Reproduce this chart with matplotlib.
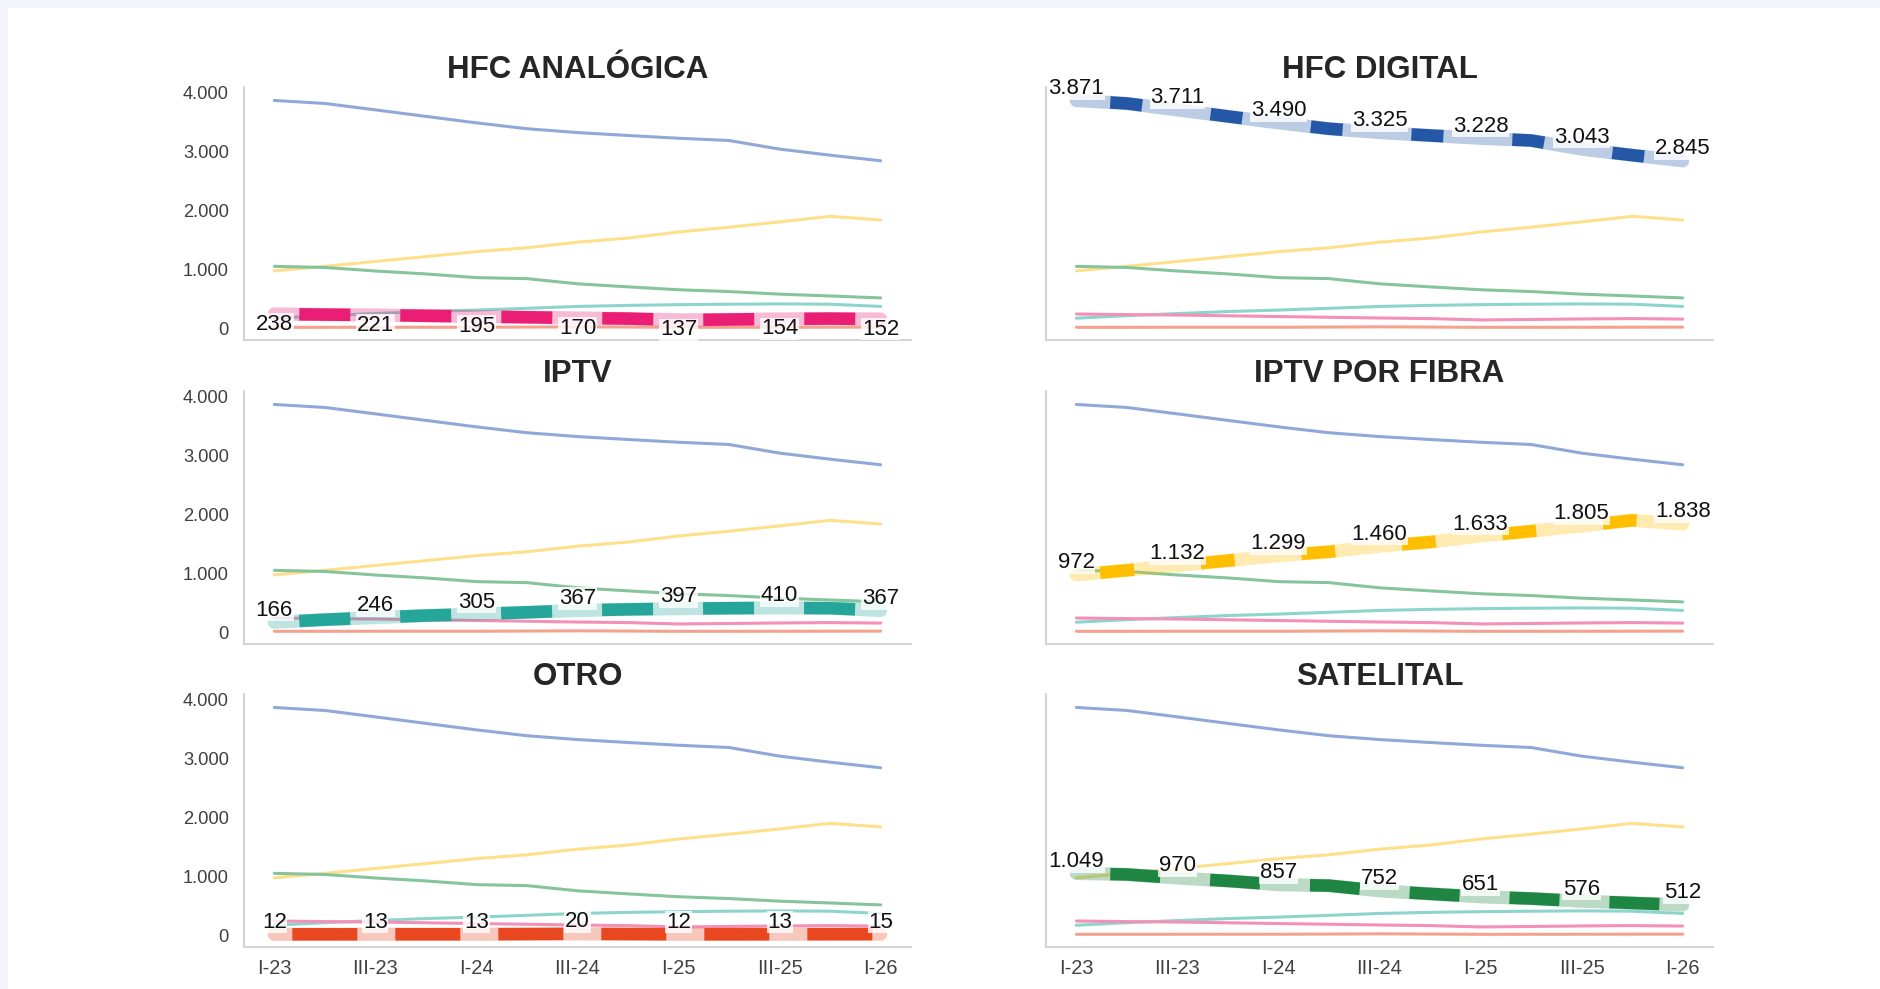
import matplotlib.pyplot as plt
from matplotlib.patches import Rectangle

plt.rcParams['font.family'] = ['Liberation Sans', 'DejaVu Sans']
plt.rcParams['lines.scale_dashes'] = False

quarters = ['I-23', 'II-23', 'III-23', 'IV-23', 'I-24', 'II-24', 'III-24',
            'IV-24', 'I-25', 'II-25', 'III-25', 'IV-25', 'I-26']

# miles de accesos por tecnologia (los trimestres pares se leen de la etiqueta)
hfc_analogica = [238, 228, 221, 208, 195, 183, 170, 160, 137, 145, 154, 160, 152]
hfc_digital = [3871, 3820, 3711, 3600, 3490, 3390, 3325, 3275, 3228, 3190, 3043, 2940, 2845]
iptv = [166, 210, 246, 280, 305, 335, 367, 385, 397, 405, 410, 405, 367]
iptv_fibra = [972, 1050, 1132, 1215, 1299, 1365, 1460, 1530, 1633, 1715, 1805, 1900, 1838]
otro = [12, 12, 13, 13, 13, 16, 20, 16, 12, 12, 13, 14, 15]
satelital = [1049, 1030, 970, 920, 857, 840, 752, 700, 651, 620, 576, 545, 512]

titles = ['HFC ANALÓGICA', 'HFC DIGITAL', 'IPTV', 'IPTV POR FIBRA', 'OTRO', 'SATELITAL']
values = [hfc_analogica, hfc_digital, iptv, iptv_fibra, otro, satelital]
dark = ['#E91E74', '#2457A6', '#26A69A', '#FFBF00', '#E8471F', '#1E8642']
thin = ['#F48FB8', '#8FA8D8', '#8DD5CC', '#FFE08A', '#F4A190', '#86C49C']

# background lines drawn in this order
thin_order = [1, 3, 5, 2, 0, 4]

# dash look per panel (px): gap at start, dash, gap
dash_px = [(25, 51, 50), (34, 32, 69), (25, 51, 50), (24, 34, 67), (18, 65, 38), (34, 50, 50)]
label_dy = [-10, 12, 12, 12, 12, 12]

W, H = 1880, 989
fig = plt.figure(figsize=(W / 100, H / 100), dpi=100)
fig.patch.set_facecolor('#F3F5FA')
fig.patches.append(Rectangle((8 / W, 0), 1, (H - 8) / H, transform=fig.transFigure,
                             facecolor='white', edgecolor='none', zorder=-10))

lefts = [244, 1046]
bottoms = [340, 644, 947]
ax_w, ax_h = 667, 253

x = list(range(len(quarters)))
px = 0.72

for i, title in enumerate(titles):
    row, col = divmod(i, 2)
    ax = fig.add_axes([lefts[col] / W, 1 - bottoms[row] / H, ax_w / W, ax_h / H])
    ax.set_facecolor('none')

    for j in thin_order:
        if j == i:
            continue
        ax.plot(x, values[j], color=thin[j], lw=2.2, solid_capstyle='round', zorder=2)

    # highlighted series: soft band + thick dashes
    ax.plot(x, values[i], color=dark[i], alpha=0.3, lw=9.5, solid_capstyle='round', zorder=3)
    g0, on, off = dash_px[i]
    ax.plot(x, values[i], color=dark[i], lw=9, dash_capstyle='butt', zorder=4,
            linestyle=((on + off - g0) * px, (on * px, off * px)))

    for k in range(0, len(quarters), 2):
        v = values[i][k]
        ax.annotate(f'{v:,}'.replace(',', '.'), (k, v), xytext=(0, label_dy[i] * px),
                    textcoords='offset points', ha='center', va='center',
                    fontsize=16, color='#111111', zorder=6,
                    bbox=dict(facecolor='white', edgecolor='none', pad=0.5, alpha=0.8))

    ax.set_xlim(-0.6, 12.6)
    ax.set_ylim(-204, 4100)
    for s in ['top', 'right']:
        ax.spines[s].set_visible(False)
    for s in ['left', 'bottom']:
        ax.spines[s].set_color('#D4D4D4')
        ax.spines[s].set_linewidth(1.5)

    ax.tick_params(length=0)
    if col == 0:
        ax.set_yticks([0, 1000, 2000, 3000, 4000])
        ax.set_yticklabels(['0', '1.000', '2.000', '3.000', '4.000'], fontsize=13.2, color='#404040')
        ax.tick_params(axis='y', pad=11)
    else:
        ax.set_yticks([])
    if row == 2:
        ax.set_xticks(x[::2])
        ax.set_xticklabels(quarters[::2], fontsize=14.4, color='#404040')
        ax.tick_params(axis='x', pad=9)
    else:
        ax.set_xticks([])

    ax.text(0.5, 1 + 17 / ax_h, title, transform=ax.transAxes, ha='center', va='center',
            fontsize=22.5, fontweight='bold', color='#262626')

fig.savefig('out.png', dpi=100, facecolor=fig.get_facecolor())
